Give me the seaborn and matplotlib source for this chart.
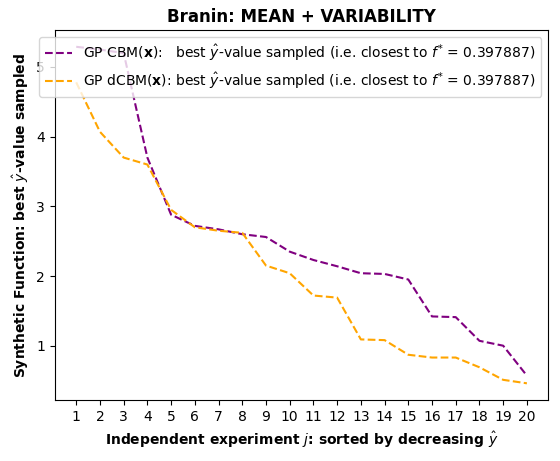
import numpy as np
import pandas as pd
import matplotlib
matplotlib.use("Agg")
import matplotlib.pyplot as plt
import seaborn as sns

experiments = list(range(1, 21))
cbm_best = [5.29, 5.25, 5.2, 3.7, 2.88, 2.72, 2.67, 2.6, 2.56, 2.35,
            2.23, 2.14, 2.04, 2.03, 1.95, 1.42, 1.41, 1.07, 1.0, 0.57]
dcbm_best = [4.78, 4.07, 3.7, 3.6, 2.95, 2.7, 2.65, 2.62, 2.15, 2.04,
             1.72, 1.69, 1.09, 1.08, 0.87, 0.83, 0.83, 0.69, 0.51, 0.46]

df = pd.DataFrame({"j": experiments, "cbm": cbm_best, "dcbm": dcbm_best})

fig, ax = plt.subplots(figsize=(5.6, 4.61), dpi=100)
sns.lineplot(data=df, x="j", y="cbm", ax=ax, color="purple", linestyle="--",
             label=r"GP CBM($\mathbf{x}$):   best $\hat{y}$-value sampled (i.e. closest to $f^{*}$ = 0.397887)")
sns.lineplot(data=df, x="j", y="dcbm", ax=ax, color="orange", linestyle="--",
             label=r"GP dCBM($\mathbf{x}$): best $\hat{y}$-value sampled (i.e. closest to $f^{*}$ = 0.397887)")

ax.set_xticks(experiments)
ax.set_xlim(0.1, 20.9)
ax.set_yticks([1, 2, 3, 4, 5])
ax.set_title("Branin: MEAN + VARIABILITY", fontweight="bold")
ax.set_xlabel(r"Independent experiment $j$: sorted by decreasing $\hat{y}$", fontweight="bold")
ax.set_ylabel(r"Synthetic Function: best $\hat{y}$-value sampled", fontweight="bold")
ax.legend(loc="upper right")
fig.subplots_adjust(left=0.098, right=0.979, top=0.935, bottom=0.132)
plt.savefig("out.png")
